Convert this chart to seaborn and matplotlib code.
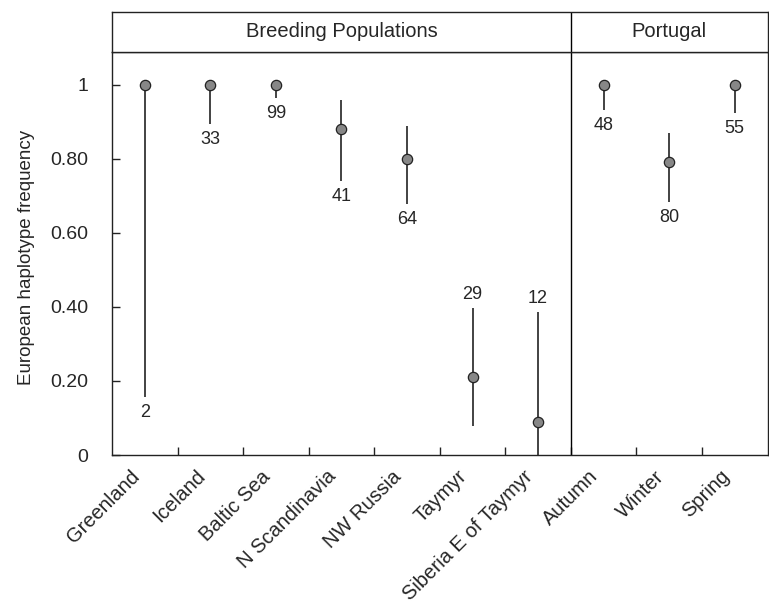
import matplotlib
matplotlib.use("Agg")
import matplotlib.pyplot as plt
import matplotlib.transforms as mtransforms
import numpy as np
import pandas as pd
import seaborn as sns

# -----------------------------
# Data
# -----------------------------
categories = ["Greenland", "Iceland", "Baltic Sea", "N Scandinavia", "NW Russia",
              "Taymyr", "Siberia E of Taymyr", "Autumn", "Winter", "Spring"]
groups = ["Breeding Populations"] * 7 + ["Portugal"] * 3
freq = [1.0, 1.0, 1.0, 0.88, 0.80, 0.21, 0.088, 1.0, 0.79, 1.0]
lower = [0.157, 0.894, 0.964, 0.739, 0.678, 0.079, 0.0, 0.932, 0.682, 0.923]
upper = [1.0, 1.0, 1.0, 0.959, 0.889, 0.396, 0.386, 1.0, 0.869, 1.0]
n_birds = [2, 33, 99, 41, 64, 29, 12, 48, 80, 55]
label_side = ["below"] * 5 + ["above", "above"] + ["below"] * 3
ytick_vals = [0, 0.2, 0.4, 0.6, 0.8, 1.0]
ytick_labels = ["0", "0.20", "0.40", "0.60", "0.80", "1"]

df = pd.DataFrame({"pos": np.arange(len(categories)), "category": categories,
                   "group": groups, "freq": freq, "lower": lower, "upper": upper,
                   "n": n_birds, "side": label_side})

# -----------------------------
# Style
# -----------------------------
sns.set_theme(style="white")
plt.rcParams["font.family"] = ["Liberation Sans", "DejaVu Sans"]
ink = "#222222"

fig = plt.figure(figsize=(7.69, 6.04), dpi=100)
left, bottom, width, top = 112 / 769, 1 - 455 / 604, 655.5 / 769, 1 - 51.7 / 604
ax = fig.add_axes([left, bottom, width, top - bottom])
strip = fig.add_axes([left, top, width, 40 / 604])

# -----------------------------
# Intervals and points
# -----------------------------
ax.vlines(df["pos"], df["lower"], df["upper"], color=ink, lw=1.2, zorder=2)
sns.scatterplot(data=df, x="pos", y="freq", ax=ax, s=55, color="#878787",
                edgecolor=ink, linewidth=0.9, zorder=3, legend=False)

for _, r in df.iterrows():
    if r["side"] == "below":
        ax.annotate(str(r["n"]), xy=(r["pos"], r["lower"]), xytext=(0, -11),
                    textcoords="offset points", ha="center", va="center", fontsize=13)
    else:
        ax.annotate(str(r["n"]), xy=(r["pos"], r["upper"]), xytext=(0, 10),
                    textcoords="offset points", ha="center", va="center", fontsize=13)

# group divider
n_first = groups.count(groups[0])
ax.axvline(n_first - 0.5, color="black", lw=1)

# -----------------------------
# Axes
# -----------------------------
ax.set_xlim(-0.5, len(categories) - 0.5)
ax.set_ylim(0, 1.089)
ax.set_xticks(df["pos"])
ax.set_xticklabels(categories, rotation=45, ha="right", rotation_mode="anchor", fontsize=14.5)
ax.set_xticks(np.arange(0.5, len(categories) - 1), minor=True)
ax.tick_params(axis="x", which="major", length=0, pad=8.5)
ax.tick_params(axis="x", which="minor", direction="in", length=6, width=1, color=ink, bottom=True)
offset = mtransforms.ScaledTranslation(-15 / 100, 0, fig.dpi_scale_trans)
for lab in ax.get_xticklabels():
    lab.set_transform(lab.get_transform() + offset)

ax.set_yticks(ytick_vals)
ax.set_yticklabels(ytick_labels, fontsize=14)
ax.tick_params(axis="y", direction="in", length=6, width=1, color=ink, pad=17, left=True)
ax.set_xlabel("")
ax.set_ylabel("European haplotype frequency", fontsize=13.5)
ax.yaxis.set_label_coords(-0.118, 0.49)
for sp in ax.spines.values():
    sp.set_color(ink)
    sp.set_linewidth(1)

# -----------------------------
# Strip with group names
# -----------------------------
strip.set_xlim(ax.get_xlim())
strip.set_ylim(0, 1)
strip.set_xticks([])
strip.set_yticks([])
for sp in strip.spines.values():
    sp.set_color(ink)
    sp.set_linewidth(1)
strip.axvline(n_first - 0.5, color="black", lw=1)
for g in dict.fromkeys(groups):
    idx = df.loc[df["group"] == g, "pos"]
    strip.text((idx.min() + idx.max()) / 2, 0.5, g, ha="center", va="center", fontsize=14.5)

fig.savefig("out.png", dpi=100)
